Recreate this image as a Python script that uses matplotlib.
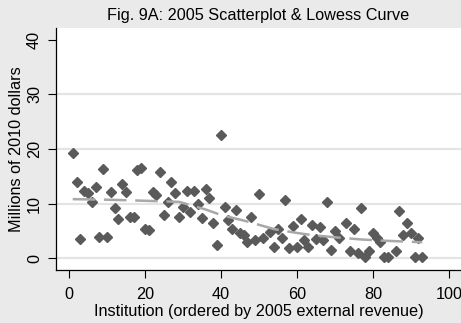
import matplotlib.pyplot as plt
import numpy as np

# institution rank and value (millions of 2010 dollars)
rank = [1, 2, 3, 4, 5, 6, 7, 8, 9, 10,
        11, 12, 13, 14, 15, 16, 17, 18, 19, 20,
        21, 22, 23, 24, 25, 26, 27, 28, 29, 30,
        31, 32, 33, 34, 35, 36, 37, 38, 39, 40,
        41, 42, 43, 44, 45, 46, 47, 48, 49, 50,
        51, 53, 54, 55, 56, 57, 58, 59, 60, 61,
        62, 63, 64, 65, 66, 67, 68, 69, 70, 71,
        73, 74, 75, 76, 77, 78, 79, 80, 81, 82,
        83, 84, 86, 87, 88, 89, 90, 91, 92, 93]
dollars = [19.2, 14.0, 3.5, 12.3, 11.9, 10.3, 13.1, 3.8, 16.3, 3.9,
           12.1, 9.1, 7.1, 13.6, 12.2, 7.5, 7.5, 16.1, 16.5, 5.4,
           5.1, 12.2, 11.6, 15.7, 7.9, 10.3, 14.0, 12.0, 7.5, 9.3,
           12.3, 8.5, 12.3, 10.0, 7.4, 12.7, 11.0, 6.5, 2.3, 22.6,
           9.3, 7.0, 5.4, 8.8, 4.5, 4.2, 2.9, 7.6, 3.3, 11.7,
           3.6, 4.8, 2.1, 5.4, 3.6, 10.6, 1.8, 5.9, 2.1, 7.1,
           3.3, 2.1, 6.1, 3.4, 5.6, 3.3, 10.3, 1.5, 5.0, 3.6,
           6.4, 1.2, 5.4, 0.9, 9.1, 0.2, 1.2, 4.5, 3.6, 3.0,
           0.2, 0.2, 1.2, 8.6, 4.2, 6.4, 4.6, 0.2, 3.7, 0.2]

# lowess curve
lowess_x = [1, 10, 20, 29, 36, 40, 47, 54, 60, 64, 70, 77, 82, 89, 93]
lowess_y = [10.8, 10.7, 10.5, 10.3, 8.9, 7.9, 6.7, 5.3, 4.6, 4.2, 3.8, 3.4, 3.2, 3.0, 2.9]

xticks = [0, 20, 40, 60, 80, 100]
yticks = [0, 10, 20, 30, 40]

plt.rcParams['font.family'] = ['Liberation Sans', 'DejaVu Sans']

fig = plt.figure(figsize=(4.61, 3.23), dpi=100, facecolor='#eaeaea')
ax = fig.add_axes([56/461, 53/323, 405/461, 242/323])
ax.set_facecolor('white')

for yv in [0, 10, 20, 30]:
    ax.axhline(yv, color='#e4e4e4', lw=1.6, zorder=0)

ax.plot(rank, dollars, 'D', ms=5.0, color='#5a5a5a', mec='#5a5a5a', zorder=2)
ax.plot(lowess_x, lowess_y, color='#a8a8a8', lw=1.8, dashes=(9, 3.5), zorder=3)

ax.set_xlim(-3.4, 103.2)
ax.set_ylim(-2.2, 42.2)
ax.set_xticks(xticks)
ax.set_yticks(yticks)
ax.set_yticklabels([str(t) for t in yticks], rotation=90, va='center')
ax.tick_params(direction='out', length=6, width=0.8, labelsize=11.7)
ax.tick_params(axis='x', pad=6)
ax.tick_params(axis='y', pad=4)

for s in ['top', 'right']:
    ax.spines[s].set_visible(False)
ax.spines['left'].set_linewidth(0.9)
ax.spines['bottom'].set_linewidth(0.9)

ax.set_xlabel('Institution (ordered by 2005 external revenue)', fontsize=11.7, labelpad=1.5)
ax.set_ylabel('Millions of 2010 dollars', fontsize=11.7, labelpad=2)
ax.set_title('Fig. 9A: 2005 Scatterplot & Lowess Curve', fontsize=11.7, pad=6)

fig.savefig('out.png', dpi=100, facecolor=fig.get_facecolor())
